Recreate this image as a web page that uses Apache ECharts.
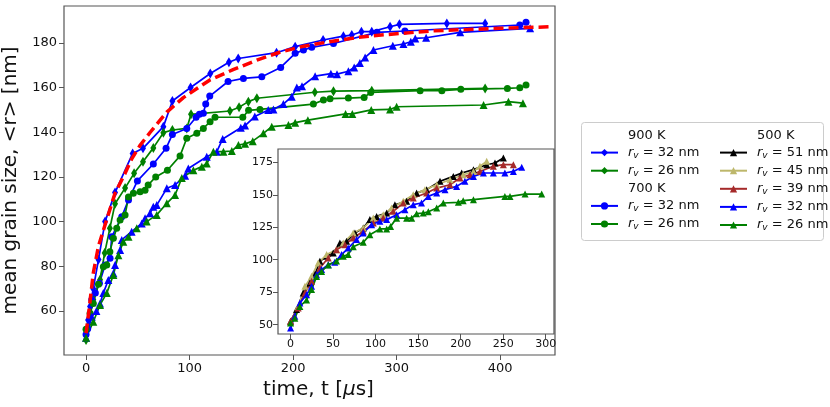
<!DOCTYPE html>
<html lang="en">
<head>
<meta charset="utf-8">
<title>mean grain size vs time</title>
<script src="https://cdn.jsdelivr.net/npm/echarts@6.0.0/dist/echarts.min.js"></script>
<style>
  html, body { margin: 0; padding: 0; background: #fff; }
  #main { width: 830px; height: 407px; }
</style>
</head>
<body>
<div id="main"></div>
<script>
// values, [time (us), mean grain size (nm)]
// 900 K, diamonds
var d900_32 = [[0,49.3],[2,56],[3.9,62],[7,70],[12,83],[18.4,100],[28,113],[45,130.5],[55,132.8],[74.7,142.5],[83.4,154],[101,160],[120,166.3],[138,171.3],[147,173],[184,175.6],[202,178.3],[229,181.3],[248.6,183],[256.7,183.5],[266,185],[276,185],[293.7,187.2],[302.7,188.3],[348.5,188.7],[385.5,188.7]];
var d900_26 = [[0,47],[3.9,59],[7,65],[13.5,74],[18,86],[23,97],[28,108],[37.7,115],[46.4,121.6],[55,126.8],[65,133],[74.7,139.8],[83.4,141],[97.3,141.7],[101.4,148],[139,149.5],[147.8,151.2],[156.8,153.7],[165,155.2],[221,157.9],[239,158.4],[276,158.6],[385.5,159.6]];
// 700 K, circles
var c700_32 = [[0,49.5],[1.6,52],[5.5,65],[9,68],[12.9,72.4],[18.4,80.6],[23.2,83.6],[24.8,93.2],[34.5,102.2],[41,109.7],[49.6,118.2],[65,125.8],[77.3,132.8],[83.4,139],[97.3,141.7],[106.3,146.7],[109.5,148],[113.3,148.5],[115.6,152.6],[119.5,156.2],[137.2,162.7],[152,164.1],[169.8,164.8],[188,169],[202,175.3],[210,176.8],[218,178],[239,179.7],[281,184.7],[308,185.3],[419,188],[425,189.2]];
var c700_26 = [[0,51.8],[3.9,59],[7,63.4],[12,72],[16.7,79.8],[20,80.6],[23,86.5],[26.4,92.5],[29.6,97],[32.9,100.7],[37.7,103],[41,111],[45.7,112.7],[52.2,113.4],[57,114],[60,116.4],[67.3,120],[78.6,123],[90.8,129.4],[97.3,137.3],[107,139.5],[113.3,141.7],[119.8,144.7],[124.6,146.7],[151.4,146.7],[157,149.8],[168,150.2],[219.6,152.6],[229.3,154.4],[235.7,155],[253.4,155.3],[268.6,155.6],[275,157.8],[322.7,158.6],[343.7,158.6],[362,159.2],[407,159.6],[419,159.9],[425,161.1]];
// 500 K, triangles
var t500_32 = [[0,48],[5.5,57.4],[10,60],[13.5,63.4],[16.7,68],[21.5,73.9],[26.4,76.9],[28,80.6],[32.9,87.3],[34.5,91.8],[44,95.5],[53.8,99.2],[57,101.5],[61.8,103.7],[65,106.7],[68.3,107.4],[78,114.9],[86,116.4],[95.7,120.5],[98.8,123.8],[116.6,129],[126.3,131.3],[132,137],[149.5,142],[153.6,143],[163,147],[176,150],[181,150.2],[190.6,152.6],[198.7,155.9],[203.6,160],[208.6,160.6],[221.3,165.1],[236.5,166.2],[242.4,166],[253.4,167.3],[259,169],[264.5,171],[269.6,173.5],[277.6,176.8],[296.3,178.7],[306.6,179.5],[313.7,180.5],[318,182],[328.5,182.3],[361.4,184.7],[429,186.5]];
var t500_26 = [[0,48],[7,55.2],[13.5,62.7],[20,68],[26.4,76.1],[31.2,85],[36,91],[41,93.2],[49,97],[58.6,100],[68.3,103],[78,108.2],[86,111.9],[92.5,119.5],[103.7,123],[111.8,124.6],[116.6,126],[123,131.3],[132.7,131.3],[140.8,131.6],[147.2,134.3],[153.6,134.8],[161,136],[171.3,139.5],[179.4,142.5],[195.5,143.2],[202,144.3],[214.3,145.4],[250.7,148.2],[257.2,148.2],[275.5,150],[293.7,150.2],[300,151.4],[384,152.2],[408,153.7],[422,153]];
// red dashed fit
var fitCurve = [[0,50],[3,61],[7,77],[12,89],[20,101],[28,112.7],[37.7,121.6],[44,128],[52,134],[62,140],[78,149],[94,155.5],[120,163.5],[142,168],[165,172.3],[187,175.8],[210,178.5],[235,180.5],[260,182.3],[285,183.5],[335,185.4],[400,186.5],[448,187.2]];

// inset, 500 K
var i51 = [[0,52.6],[7,61.6],[14.9,74.4],[22.7,82],[28.6,88.5],[34.5,98.8],[42.4,102.6],[50.2,105.2],[58,112.9],[65.9,114.2],[75.7,120.6],[85.5,124.4],[93.3,130.9],[101.2,133.4],[113,136],[122.7,142.4],[136.5,145],[148.2,151.4],[160,154],[175.7,160.4],[191.4,164.2],[201.2,166.8],[215,169.4],[230.6,173.2],[240.4,174.5],[250.2,178.3]];
var i45 = [[0,51.8],[9,64],[16.9,79.5],[24.7,87.2],[32.5,97.5],[42.4,104],[54,107.7],[62,112.9],[73.7,120.6],[85.5,124.4],[97.3,132.1],[109,134.7],[118.8,139.8],[132.5,145],[144.3,150.1],[158,154],[171.8,157.8],[187.5,161.6],[203,165.5],[215,168],[222.7,172],[230.6,175.8]];
var i39 = [[0,52.6],[9,62.8],[16.9,74.4],[24.7,83.4],[34.5,93.6],[44.3,101.3],[54,107.7],[64,111.6],[73.7,116.7],[85.5,121.9],[97.3,128.3],[109,132.1],[120.8,137.3],[132.5,143.7],[144.3,147.5],[160,151.4],[171.8,155.2],[187.5,157.8],[199.2,162.9],[211,165.5],[222.7,168],[238.4,172],[250.2,173.2],[262,173.2]];
var i32 = [[0,47.4],[5,56.4],[11,66.7],[18.8,73],[24.7,79.5],[30.6,88.5],[36.5,92.4],[44.3,96.2],[52,98],[60,104],[67.8,109],[77.6,115.5],[85.5,120.6],[95.3,127],[105,129.6],[113,130.9],[124.7,134.7],[134.5,138.6],[144.3,142.4],[154,143.7],[162,148.8],[171.8,151.4],[181.6,154],[195.3,156.5],[205,160.4],[215,164.2],[226.7,166.8],[238.4,166.8],[252,166.8],[262,168],[271.8,171.2]];
var i26 = [[0,51.3],[5,55],[11,64],[18.8,69],[24.7,77],[30.6,87],[36.5,91],[44.3,96],[54,99],[62,102.6],[67.8,104],[73.7,110],[85.5,113.4],[93.3,119.3],[105,123.7],[113,123.7],[117.6,125.7],[124.7,132],[136.5,132],[142.4,132],[148.2,135.5],[156,136],[162,137],[171.8,139.8],[179.6,143.7],[197.3,144.2],[203,145.5],[215,146.3],[252,148.8],[258,148.8],[275.7,150.6],[295.3,150.6]];

var mainXTicks = [0, 100, 200, 300, 400];
var mainYTicks = [60, 80, 100, 120, 140, 160, 180];
var insetXTicks = [0, 50, 100, 150, 200, 250, 300];
var insetYTicks = [50, 75, 100, 125, 150, 175];

var legendText = {
    h900: '{n|900 K}', d900_32: '{i|r}{s|v}{n| = 32 nm}', d900_26: '{i|r}{s|v}{n| = 26 nm}',
    h700: '{n|700 K}', c700_32: '{i|r}{s|v}{n| = 32 nm}', c700_26: '{i|r}{s|v}{n| = 26 nm}',
    h500: '{n|500 K}', i51: '{i|r}{s|v}{n| = 51 nm}', i45: '{i|r}{s|v}{n| = 45 nm}',
    i39: '{i|r}{s|v}{n| = 39 nm}', i32: '{i|r}{s|v}{n| = 32 nm}', i26: '{i|r}{s|v}{n| = 26 nm}'
};

var FONT = 'DejaVu Sans';
var SPINE = '#555';

function line(name, data, color, symbol, size, axis) {
    return {
        name: name, type: 'line', data: data,
        xAxisIndex: axis, yAxisIndex: axis,
        symbol: symbol, symbolSize: size, showAllSymbol: true,
        lineStyle: { color: color, width: 1.7 },
        itemStyle: { color: color, borderWidth: 0 },
        emphasis: { disabled: true }
    };
}
function header(name) {
    return { name: name, type: 'line', data: [], symbol: 'none', color: 'rgba(0,0,0,0)',
             lineStyle: { opacity: 0 }, itemStyle: { opacity: 0 } };
}
function valueAxis(gi, min, max, ticks, fs, margin, extra) {
    var a = {
        type: 'value', gridIndex: gi, min: min, max: max,
        axisLine: { show: false, onZero: false },
        splitLine: { show: false },
        axisTick: { show: true, length: 5, customValues: ticks, lineStyle: { color: SPINE, width: 1 } },
        axisLabel: { customValues: ticks, fontFamily: FONT, fontSize: fs, color: '#111', margin: margin }
    };
    for (var k in extra) a[k] = extra[k];
    return a;
}

var legendRich = {
    n: { fontFamily: FONT, fontSize: 13, color: '#111', lineHeight: 15 },
    i: { fontFamily: FONT, fontSize: 13, fontStyle: 'italic', color: '#111', lineHeight: 15 },
    s: { fontFamily: FONT, fontSize: 9, fontStyle: 'italic', color: '#111', lineHeight: 8, verticalAlign: 'bottom' }
};
function legendCol(left, names) {
    return {
        orient: 'vertical', left: left, top: 124, itemWidth: 27, itemHeight: 9, itemGap: 4.1,
        selectedMode: false, data: names,
        formatter: function (name) { return legendText[name]; },
        textStyle: { padding: [0, 0, 0, 5], rich: legendRich }
    };
}

var myChart = echarts.init(document.getElementById('main'));
var option = {
    animation: false,
    backgroundColor: '#fff',
    grid: [
        { left: 64, top: 6, right: 275, bottom: 52, show: true, borderColor: SPINE, borderWidth: 1.2, backgroundColor: '#fff', outerBoundsMode: 'none' },
        { left: 278, top: 149, right: 276, bottom: 73, show: true, borderColor: SPINE, borderWidth: 1.2, backgroundColor: '#fff', outerBoundsMode: 'none' }
    ],
    xAxis: [
        valueAxis(0, -21.3, 453, mainXTicks, 13, 7, {
            name: 'time, t [{m|μ}s]', nameLocation: 'middle', nameGap: 21,
            nameTextStyle: { fontFamily: FONT, fontSize: 20, color: '#111', padding: [0, 0, 0, 18],
                             rich: { m: { fontFamily: FONT, fontSize: 20, fontStyle: 'italic', color: '#111' } } }
        }),
        valueAxis(1, -14.75, 309.75, insetXTicks, 11, 5, {})
    ],
    yAxis: [
        valueAxis(0, 40.3, 196.5, mainYTicks, 13, 7, {
            name: 'mean grain size, <r> [nm]', nameLocation: 'middle', nameGap: 36,
            nameTextStyle: { fontFamily: FONT, fontSize: 20, color: '#111' }
        }),
        valueAxis(1, 42.8, 185.3, insetYTicks, 11, 5, {})
    ],
    legend: [
        legendCol(585, ['h900', 'd900_32', 'd900_26', 'h700', 'c700_32', 'c700_26']),
        legendCol(714, ['h500', 'i51', 'i45', 'i39', 'i32', 'i26'])
    ],
    graphic: [{
        type: 'rect', left: 581, top: 122, z: -1,
        shape: { width: 242, height: 118, r: 3 },
        style: { fill: '#fff', stroke: '#ccc', lineWidth: 1 }
    }],
    series: [
        header('h900'), header('h700'), header('h500'),
        line('d900_32', d900_32, '#0000ff', 'diamond', [6, 10], 0),
        line('d900_26', d900_26, '#008000', 'diamond', [6, 10], 0),
        line('c700_32', c700_32, '#0000ff', 'circle', 7, 0),
        line('c700_26', c700_26, '#008000', 'circle', 7, 0),
        line('t500_32', t500_32, '#0000ff', 'triangle', 8, 0),
        line('t500_26', t500_26, '#008000', 'triangle', 8, 0),
        {
            name: 'fit', type: 'line', data: fitCurve, xAxisIndex: 0, yAxisIndex: 0,
            symbol: 'none', z: 5,
            lineStyle: { color: '#ff0000', width: 3.5, type: [10, 5] },
            emphasis: { disabled: true }
        },
        line('i51', i51, '#000000', 'triangle', 7, 1),
        line('i45', i45, '#bdb76b', 'triangle', 7, 1),
        line('i39', i39, '#a52a2a', 'triangle', 7, 1),
        line('i32', i32, '#0000ff', 'triangle', 7, 1),
        line('i26', i26, '#008000', 'triangle', 7, 1)
    ]
};
myChart.setOption(option);
</script>
</body>
</html>
